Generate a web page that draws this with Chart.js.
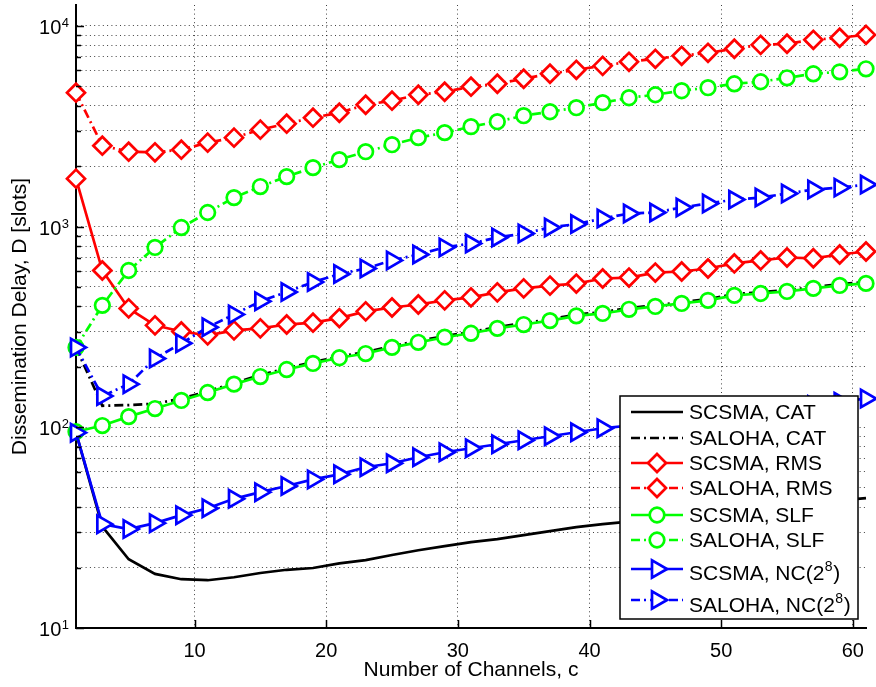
<!DOCTYPE html>
<html>
<head>
<meta charset="utf-8">
<script src="https://cdn.jsdelivr.net/npm/chart.js@4.4.0/dist/chart.umd.min.js"></script>
<style>
html,body{margin:0;padding:0;background:#fff;}
#wrap{width:876px;height:687px;position:relative;}
canvas{display:block;}
</style>
</head>
<body>
<div id="wrap"><canvas id="c" width="876" height="687" style="width:876px;height:687px"></canvas></div>
<script>
// ---------------- DATA ----------------
const channels = [1,3,5,7,9,11,13,15,17,19,21,23,25,27,29,31,33,35,37,39,41,43,45,47,49,51,53,55,57,59,61];

const scsmaCat = [94,32,22.0,18.6,17.5,17.3,17.9,18.8,19.5,19.9,21.0,21.8,23.1,24.4,25.6,26.8,27.7,29.0,30.4,31.8,32.9,33.9,35.0,36.1,37.2,38.4,39.6,40.8,42.0,43.2,44.4];
const salohaCat = [250,128,129,131,139,151,166,182,197,211,225,237,254,269,285,298,316,330,345,364,375,393,406,420,435,461,471,482,499,517,529];
const scsmaRms = [1733,604,391,322,300,287,304,311,325,332,350,378,395,409,429,444,470,492,508,520,551,557,590,597,618,655,678,701,695,726,751];
const salohaRms = [4645,2529,2360,2344,2415,2618,2773,3040,3255,3486,3690,4045,4236,4536,4695,4974,5145,5450,5770,6040,6320,6620,6850,7090,7340,7690,8040,8140,8520,8720,9020];
const scsmaSlf = [95,102,113,124,136,149,164,179,194,208,222,233,250,265,281,294,311,325,340,359,369,387,400,414,429,454,464,475,492,509,521];
const salohaSlf = [250,405,604,787,989,1175,1394,1582,1774,1966,2154,2360,2558,2773,2937,3145,3330,3566,3733,3909,4140,4383,4536,4750,4917,5145,5265,5510,5770,5900,6110];
const scsmaNc = [94,32.9,31.1,33.3,36.5,39.5,44.0,47.5,51.0,55.0,58.3,63.2,66.2,70.9,75.1,78.6,82.3,86.2,90.2,94.5,98.9,102,106,109,113,117,121,125,129,134,139];
const salohaNc = [250,143,164,220,262,315,365,424,472,529,580,618,678,726,787,823,882,923,989,1029,1096,1161,1175,1244,1302,1362,1394,1460,1528,1563,1618];

const seriesNames = ['SCSMA, CAT','SALOHA, CAT','SCSMA, RMS','SALOHA, RMS','SCSMA, SLF','SALOHA, SLF','SCSMA, NC(2','SALOHA, NC(2'];
const seriesSup = ['','','','','','','8','8'];

const xTickValues = [10,20,30,40,50,60];
const yGridValues = [10,20,30,40,50,60,70,80,90,100,200,300,400,500,600,700,800,900,1000,2000,3000,4000,5000,6000,7000,8000,9000,10000];
const yDecadeValues = [10,100,1000,10000];
const yDecadeExponents = ['1','2','3','4'];

const xTitle = 'Number of Channels, c';
const yTitle = 'Dissemination Delay, D [slots]';

// ---------------- STYLE ----------------
const FONT = '"Liberation Sans", Arial, Helvetica, sans-serif';
const RED = '#ff0000', GREEN = '#00ff00', BLUE = '#0000ff', BLACK = '#000000';
const DASHDOT = [9,4,2,4];
const LW = 2.7;
const GRID = 'rgba(0,0,0,0.75)';

function pts(vals){ return channels.map((c,i)=>({x:c, y:vals[i]})); }

const styleList = [
  {color:BLACK, dash:[], shape:null, r:0},
  {color:BLACK, dash:DASHDOT, shape:null, r:0},
  {color:RED, dash:[], shape:'rectRot', r:9},
  {color:RED, dash:DASHDOT, shape:'rectRot', r:9},
  {color:GREEN, dash:[], shape:'circle', r:7.3},
  {color:GREEN, dash:DASHDOT, shape:'circle', r:7.3},
  {color:BLUE, dash:[], shape:'triangle', r:10},
  {color:BLUE, dash:DASHDOT, shape:'triangle', r:10}
];
const seriesValues = [scsmaCat, salohaCat, scsmaRms, salohaRms, scsmaSlf, salohaSlf, scsmaNc, salohaNc];

const datasets = seriesValues.map((vals,i)=>{
  const s = styleList[i];
  return {
    label: seriesNames[i] + seriesSup[i],
    data: pts(vals),
    borderColor: s.color,
    backgroundColor: s.color,
    borderWidth: LW,
    borderDash: s.dash,
    pointStyle: s.shape || 'circle',
    pointRadius: s.r,
    pointRotation: s.shape === 'triangle' ? 90 : 0,
    pointBorderColor: s.color,
    pointBackgroundColor: '#ffffff',
    pointBorderWidth: LW,
    tension: 0,
    clip: false,
    order: 10 - i
  };
});

// ---------------- PLUGINS ----------------
function drawMarker(ctx, shape, x, y, r, color){
  if(!shape) return;
  ctx.save();
  ctx.setLineDash([]);
  ctx.lineWidth = LW;
  ctx.strokeStyle = color;
  ctx.fillStyle = '#ffffff';
  ctx.beginPath();
  if(shape === 'circle'){
    ctx.arc(x,y,r,0,Math.PI*2);
  } else if(shape === 'rectRot'){
    ctx.moveTo(x, y-r); ctx.lineTo(x+r, y); ctx.lineTo(x, y+r); ctx.lineTo(x-r, y); ctx.closePath();
  } else if(shape === 'triangle'){
    ctx.moveTo(x + r, y);
    ctx.lineTo(x - 0.5*r, y + 0.866*r);
    ctx.lineTo(x - 0.5*r, y - 0.866*r);
    ctx.closePath();
  }
  ctx.fill(); ctx.stroke();
  ctx.restore();
}

const decorPlugin = {
  id: 'decor',
  afterDraw(chart){
    const ctx = chart.ctx;
    const xs = chart.scales.x, ys = chart.scales.y;
    const ca = chart.chartArea;
    ctx.save();
    // inward tick marks
    ctx.strokeStyle = '#000'; ctx.lineWidth = 1.5; ctx.setLineDash([]);
    xTickValues.forEach(v=>{
      const px = Math.round(xs.getPixelForValue(v)) + 0.5;
      ctx.beginPath(); ctx.moveTo(px, ca.bottom); ctx.lineTo(px, ca.bottom - 8); ctx.stroke();
    });
    yGridValues.forEach(v=>{
      const py = Math.round(ys.getPixelForValue(v)) + 0.5;
      const len = yDecadeValues.includes(v) ? 8 : 5;
      ctx.beginPath(); ctx.moveTo(ca.left, py); ctx.lineTo(ca.left + len, py); ctx.stroke();
    });
    // y tick labels with superscripts
    ctx.fillStyle = '#000';
    ctx.textBaseline = 'alphabetic';
    yDecadeValues.forEach((v,i)=>{
      const py = ys.getPixelForValue(v);
      ctx.font = '13px ' + FONT;
      ctx.textAlign = 'right';
      const supW = ctx.measureText(yDecadeExponents[i]).width;
      ctx.fillText(yDecadeExponents[i], 69, py + 1);
      ctx.font = '20px ' + FONT;
      ctx.fillText('10', 69 - supW - 0.5, py + 8);
    });
    ctx.restore();

    // legend
    const lx = 620, ly = 396, lw = 238, lh = 223;
    ctx.save();
    ctx.fillStyle = '#fff';
    ctx.fillRect(lx, ly, lw, lh);
    ctx.strokeStyle = '#000'; ctx.lineWidth = 1.5; ctx.setLineDash([]);
    ctx.strokeRect(lx, ly, lw, lh);
    const lineYs = [412,438,463,488,515,540,569,600];
    const baseYs = [419,445,470,495,522,547,580,612];
    seriesNames.forEach((name,i)=>{
      const s = styleList[i];
      const y = lineYs[i];
      ctx.save();
      ctx.strokeStyle = s.color; ctx.lineWidth = LW; ctx.setLineDash(s.dash);
      ctx.beginPath(); ctx.moveTo(631, y); ctx.lineTo(683, y); ctx.stroke();
      ctx.restore();
      drawMarker(ctx, s.shape, 657, y, s.r, s.color);
      ctx.fillStyle = '#000';
      ctx.textAlign = 'left'; ctx.textBaseline = 'alphabetic';
      ctx.font = '21px ' + FONT;
      ctx.fillText(name, 689, baseYs[i]);
      if(seriesSup[i]){
        const w = ctx.measureText(name).width;
        ctx.font = '14px ' + FONT;
        ctx.fillText(seriesSup[i], 689 + w + 0.5, baseYs[i] - 9);
        const w2 = ctx.measureText(seriesSup[i]).width;
        ctx.font = '21px ' + FONT;
        ctx.fillText(')', 689 + w + w2 + 1, baseYs[i]);
      }
    });
    ctx.restore();
  }
};

// ---------------- CHART ----------------
new Chart(document.getElementById('c'), {
  type: 'line',
  data: { datasets },
  options: {
    responsive: false,
    animation: false,
    events: [],
    layout: { autoPadding: false, padding: { left: 0, right: 10, top: 5, bottom: 0 } },
    plugins: { legend: { display: false }, tooltip: { enabled: false }, title: { display: false } },
    scales: {
      x: {
        type: 'linear', min: 1, max: 61,
        afterBuildTicks: s => { s.ticks = xTickValues.map(v=>({value:v})); },
        afterFit: s => { s.height = 59; },
        ticks: { autoSkip: false, maxRotation: 0, padding: 11, color: '#000', font: { family: FONT, size: 20 }, callback: v => String(v) },
        grid: { color: GRID, lineWidth: 1, drawTicks: false },
        border: { display: true, color: '#000', width: 2, dash: [1,3.3] },
        title: { display: true, text: xTitle, color: '#000', font: { family: FONT, size: 21 }, padding: { top: 0, bottom: 4 } }
      },
      y: {
        type: 'logarithmic', min: 10, max: 12700,
        afterBuildTicks: s => { s.ticks = yGridValues.map(v=>({value:v})); },
        afterFit: s => { s.width = 76; },
        ticks: { display: false, autoSkip: false },
        grid: { color: GRID, lineWidth: 1, drawTicks: false },
        border: { display: true, color: '#000', width: 2, dash: [1,3.3] },
        title: { display: true, text: yTitle, color: '#000', font: { family: FONT, size: 21 }, padding: { top: 8, bottom: 0 } }
      }
    }
  },
  plugins: [decorPlugin]
});
</script>
</body>
</html>
